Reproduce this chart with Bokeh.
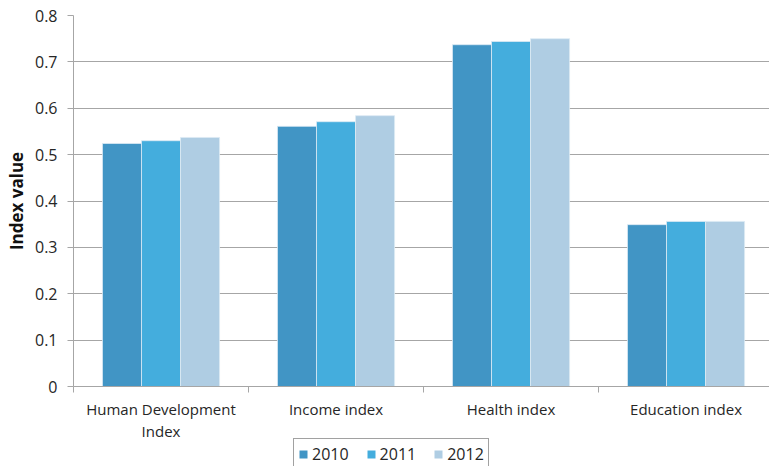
from bokeh.plotting import figure
from bokeh.layouts import column
from bokeh.models import (ColumnDataSource, FixedTicker, Legend, LegendItem,
                          CustomJSTickFormatter, Range1d)
from bokeh.core.properties import value
from bokeh.transform import dodge
from bokeh.embed import file_html
from bokeh.resources import INLINE

# Index values by component and year
categories = ["Human Development\nIndex", "Income index", "Health index", "Education index"]
years = ["2010", "2011", "2012"]
values_2010 = [0.524, 0.561, 0.737, 0.349]
values_2011 = [0.530, 0.571, 0.744, 0.356]
values_2012 = [0.537, 0.584, 0.750, 0.356]
y_ticks = [0, 0.1, 0.2, 0.3, 0.4, 0.5, 0.6, 0.7, 0.8]

colors = ["#4195c5", "#44addd", "#afcde3"]
label_font = "Open Sans"
text_color = "#262626"
left_border = 73

positions = [i + 0.5 for i in range(len(categories))]
source = ColumnDataSource(dict(x=positions, v2010=values_2010,
                               v2011=values_2011, v2012=values_2012))

# main chart: bars, grid and axes
p = figure(width=769, height=398, output_backend="svg", toolbar_location=None,
           x_range=Range1d(0, 3.977), y_range=Range1d(0, 0.8),
           min_border_left=left_border, min_border_right=0, min_border_top=15,
           min_border_bottom=12)
p.outline_line_color = None
p.xgrid.grid_line_color = None
p.ygrid.grid_line_color = "#a6a6a6"
p.ygrid.grid_line_width = 1

bar_w = 0.223
for col, off, color in zip(["v2010", "v2011", "v2012"], [-bar_w, 0, bar_w], colors):
    p.vbar(x=dodge("x", off, range=p.x_range), top=col, width=bar_w, bottom=0,
           source=source, fill_color=color, line_color="#dceaf4", line_width=0.8)

# x axis: only the boundary ticks between groups; names are drawn underneath
xax = p.xaxis[0]
xax.ticker = FixedTicker(ticks=positions, minor_ticks=list(range(len(categories) + 1)))
xax.major_label_overrides = {pos: "" for pos in positions}
xax.major_label_text_font_size = "1px"
xax.major_label_standoff = 0
xax.major_tick_out = 0
xax.major_tick_in = 0
xax.minor_tick_out = 6
xax.minor_tick_in = 0
xax.minor_tick_line_color = "#a6a6a6"
xax.axis_line_color = "#a6a6a6"

yax = p.yaxis[0]
yax.ticker = FixedTicker(ticks=y_ticks)
yax.formatter = CustomJSTickFormatter(code="return String(Math.round(tick * 10) / 10);")
yax.axis_line_color = "#a6a6a6"
yax.major_tick_line_color = "#a6a6a6"
yax.major_tick_out = 6
yax.major_tick_in = 0
yax.minor_tick_line_color = None
yax.major_label_text_font = label_font
yax.major_label_text_font_size = "16px"
yax.major_label_text_color = text_color
yax.major_label_standoff = 10
yax.axis_label = "Index value"
yax.axis_label_text_font = "Open Sans"
yax.axis_label_text_font_style = "bold"
yax.axis_label_text_font_size = "17px"
yax.axis_label_text_color = "#111111"
yax.axis_label_standoff = 4

# strip underneath: category names on the shared x scale, then the legend
lg = figure(width=769, height=68, output_backend="svg", toolbar_location=None,
            x_range=p.x_range, y_range=Range1d(0, 68),
            x_axis_location=None, y_axis_location=None,
            min_border_left=left_border, min_border_right=0, min_border_top=0,
            min_border_bottom=0)
lg.outline_line_color = None
lg.xgrid.grid_line_color = None
lg.ygrid.grid_line_color = None

names = ColumnDataSource(dict(x=positions, y=[68] * len(positions), text=categories))
lg.text(x="x", y="y", text="text", source=names, text_align="center",
        text_baseline="top", text_font=value(label_font), text_font_size="15px",
        text_color=text_color, text_line_height=1.12)

dummy = ColumnDataSource(dict(x=[-10], top=[0]))
swatches = [lg.vbar(x="x", top="top", width=0.1, source=dummy,
                    fill_color=c, line_color=None) for c in colors]

legend = Legend(items=[LegendItem(label=y, renderers=[r]) for y, r in zip(years, swatches)],
                orientation="horizontal", location=(220, -4),
                glyph_width=10, glyph_height=10, label_standoff=4, spacing=17,
                padding=4, margin=0, border_line_color="#444444", border_line_width=1,
                label_text_font=label_font, label_text_font_size="16px",
                label_height=14, label_text_color=text_color, background_fill_alpha=1)
lg.add_layout(legend, "center")

layout = column(p, lg, spacing=0)
open("out.html", "w").write(file_html(layout, INLINE))
